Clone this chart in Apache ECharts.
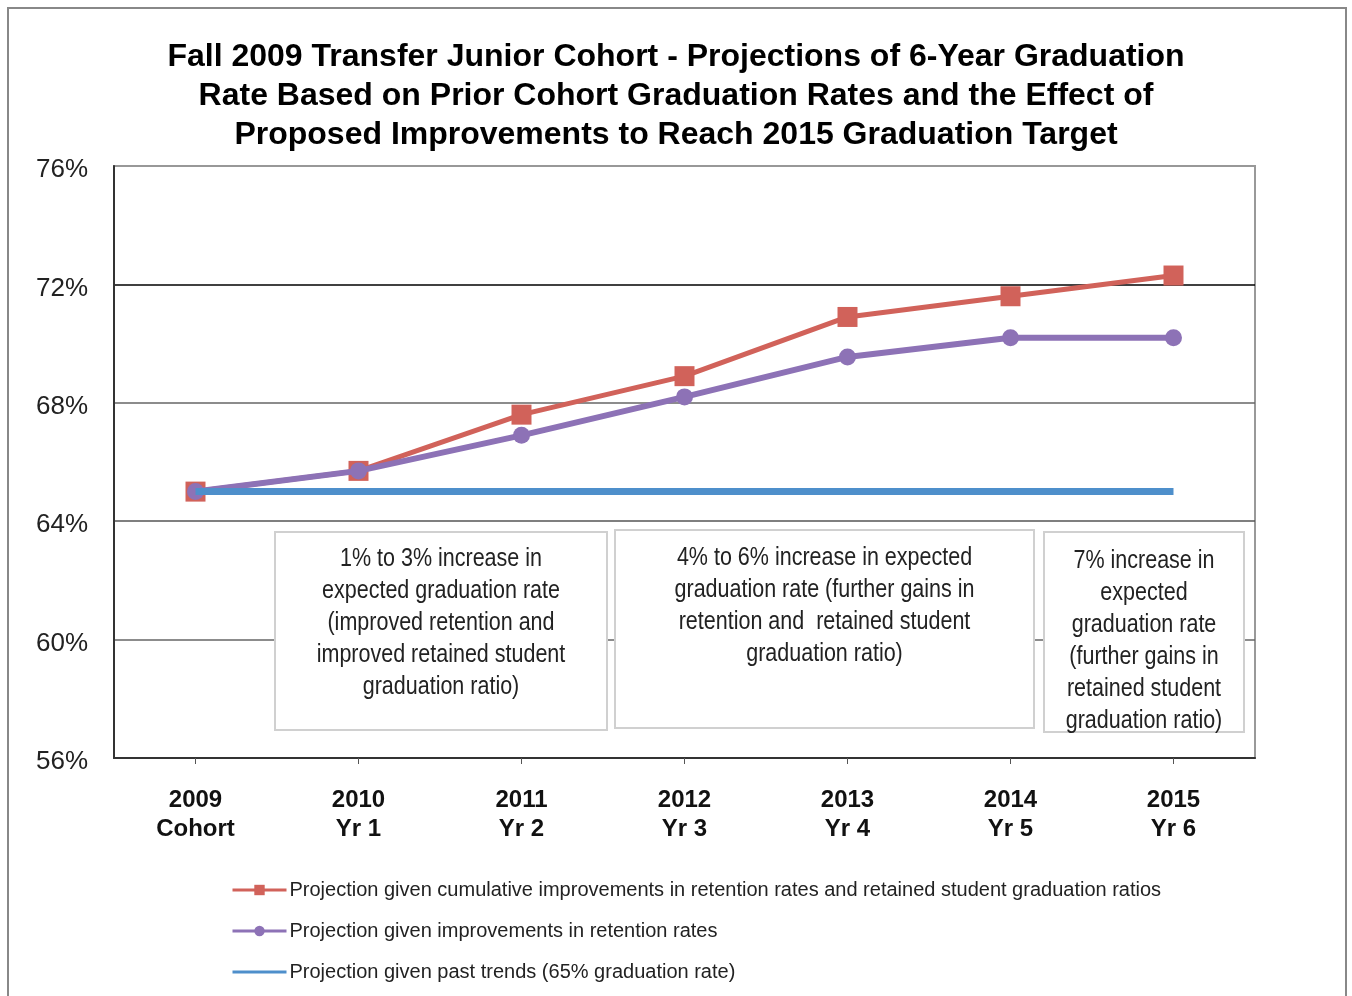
<!DOCTYPE html>
<html><head><meta charset="utf-8">
<script src="https://cdn.jsdelivr.net/npm/echarts@6/dist/echarts.min.js"></script>
<style>html,body{margin:0;padding:0;background:#fff}#c{width:1352px;height:996px}</style>
</head><body><div id="c"></div>
<script>
const categories = ['2009\nCohort','2010\nYr 1','2011\nYr 2','2012\nYr 3','2013\nYr 4','2014\nYr 5','2015\nYr 6'];
const cumulative = [65.0, 65.7, 67.6, 68.9, 70.9, 71.6, 72.3];
const retention = [65.0, 65.7, 66.9, 68.2, 69.55, 70.2, 70.2];
const pastTrends = [65, 65, 65, 65, 65, 65, 65];
const seriesNames = [
  'Projection given cumulative improvements in retention rates and retained student graduation ratios',
  'Projection given improvements in retention rates',
  'Projection given past trends (65% graduation rate)'
];
const titleText = 'Fall 2009 Transfer Junior Cohort - Projections of 6-Year Graduation\nRate Based on Prior Cohort Graduation Rates and the Effect of\nProposed Improvements to Reach 2015 Graduation Target';
const notes = [
  '1% to 3% increase in\nexpected graduation rate\n(improved retention and\nimproved retained student\ngraduation ratio)',
  '4% to 6% increase in expected\ngraduation rate (further gains in\nretention and  retained student\ngraduation ratio)',
  '7% increase in\nexpected\ngraduation rate\n(further gains in\nretained student\ngraduation ratio)'
];

const chart = echarts.init(document.getElementById('c'), null, {renderer:'canvas'});
const sans = '"Liberation Sans", Arial, sans-serif';
function noteBox(x, y, w, h, text, textTop) {
  return {
    type: 'group', z: 10,
    children: [
      {type:'rect', shape:{x:x, y:y, width:w, height:h}, style:{fill:'#fff', stroke:'#d0d0d0', lineWidth:2}, z:10},
      {type:'text', x: x + w/2, y: textTop, scaleX: 0.86, z:11,
       style:{text:text, fill:'#222', font:'25px ' + sans, align:'center', verticalAlign:'top', lineHeight:32}}
    ]
  };
}
chart.setOption({
  animation: false,
  backgroundColor: '#fff',
  title: {
    text: titleText, left: 'center', top: 33,
    textStyle: {fontFamily: sans, fontWeight:'bold', fontSize:32, color:'#000', lineHeight:39}
  },
  grid: {left:114, right:97, top:166, bottom:238, show:true, borderColor:'#999', borderWidth:2, backgroundColor:'transparent'},
  legend: {
    orient:'vertical', left:226, top:875, itemGap:21, itemWidth:54, itemHeight:13,
    data: [
      {name: seriesNames[0]},
      {name: seriesNames[1]},
      {name: seriesNames[2], itemStyle:{opacity:0}}
    ],
    lineStyle: {width:3},
    textStyle: {fontFamily: sans, fontSize:20, color:'#222', padding:[0,0,0,-2]}
  },
  xAxis: {
    type:'category', data:categories, boundaryGap:true,
    axisLine:{show:true, lineStyle:{color:'#333', width:2}},
    axisTick:{show:true, alignWithLabel:true, length:6, lineStyle:{color:'#555', width:1}},
    axisLabel:{margin:28, fontFamily: sans, fontWeight:'bold', fontSize:24, color:'#111', lineHeight:29},
    splitLine:{show:false}
  },
  yAxis: {
    type:'value', min:56, max:76, interval:4,
    axisLine:{show:true, lineStyle:{color:'#333', width:2}},
    axisTick:{show:false},
    axisLabel:{margin:26, formatter:'{a|{value}%}',
      rich:{a:{fontFamily: sans, fontSize:26, color:'#222', padding:[8,0,0,0]}}},
    splitLine:{show:true, lineStyle:{color:['#555','#666','#555','#666','#000','#999'], width:1.5}}
  },
  graphic: [
    {type:'rect', shape:{x:8, y:8, width:1338, height:1000}, style:{fill:'none', stroke:'#888', lineWidth:2}, z:-1, silent:true},
    noteBox(275, 532, 332, 198, notes[0], 543),
    noteBox(615, 530, 419, 198, notes[1], 542),
    noteBox(1044, 532, 200, 200, notes[2], 545)
  ],
  series: [
    {name:seriesNames[0], type:'line', data:cumulative, symbol:'rect', symbolSize:20,
     lineStyle:{color:'#D1625A', width:5}, itemStyle:{color:'#D1625A'}, z:3},
    {name:seriesNames[1], type:'line', data:retention, symbol:'circle', symbolSize:17,
     lineStyle:{color:'#8D72B6', width:6}, itemStyle:{color:'#8D72B6'}, z:4},
    {name:seriesNames[2], type:'line', data:pastTrends, symbol:'none', showSymbol:false,
     lineStyle:{color:'#4E8FCB', width:7}, itemStyle:{color:'#4E8FCB'}, z:5}
  ]
});
</script></body></html>
